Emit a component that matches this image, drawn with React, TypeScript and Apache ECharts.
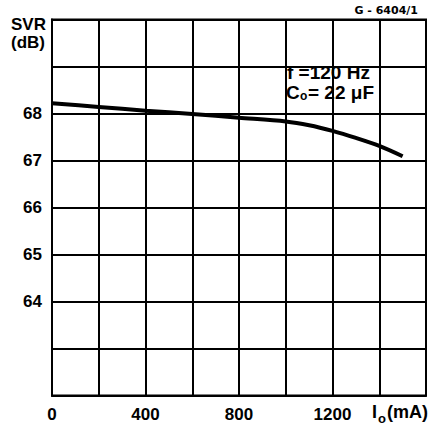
import React, { useEffect, useRef } from "react";
import * as echarts from "echarts";

const currentMA: number[] = [0, 200, 400, 600, 800, 1000, 1100, 1200, 1300, 1400, 1500];
const svrDB: number[] = [68.22, 68.14, 68.06, 67.99, 67.91, 67.83, 67.75, 67.63, 67.48, 67.31, 67.09];
const xTickLabels: number[] = [0, 400, 800, 1200];
const yTickLabels: number[] = [64, 65, 66, 67, 68];

const FONT = "Liberation Sans";

export default function App() {
  const ref = useRef<HTMLDivElement>(null);
  useEffect(() => {
    document.body.style.margin = "0";
    if (!ref.current) return;
    const chart = echarts.init(ref.current, undefined, { renderer: "svg" });
    const data = currentMA.map((x, i) => [x, svrDB[i]]);
    const bold = (size: number) => ({
      fontFamily: FONT,
      fontWeight: "bold" as const,
      fontSize: size,
      fill: "#000",
    });
    chart.setOption({
      animation: false,
      backgroundColor: "#fff",
      grid: {
        left: 52,
        right: 11,
        top: 19.5,
        bottom: 39.5,
        show: true,
        borderColor: "#000",
        borderWidth: 2,
        backgroundColor: "transparent",
      },
      xAxis: {
        type: "value",
        min: 0,
        max: 1600,
        interval: 200,
        axisLine: { show: true, lineStyle: { color: "#000", width: 2 } },
        axisTick: { show: false },
        splitLine: { show: true, lineStyle: { color: "#000", width: 2 } },
        axisLabel: {
          margin: 10,
          color: "#000",
          fontFamily: FONT,
          fontWeight: "bold",
          fontSize: 17,
          formatter: (v: number) => (xTickLabels.includes(v) ? String(v) : ""),
        },
      },
      yAxis: {
        type: "value",
        min: 62,
        max: 70,
        interval: 1,
        axisLine: { show: true, lineStyle: { color: "#000", width: 2 } },
        axisTick: { show: false },
        splitLine: { show: true, lineStyle: { color: "#000", width: 2 } },
        axisLabel: {
          margin: 10,
          color: "#000",
          fontFamily: FONT,
          fontWeight: "bold",
          fontSize: 17,
          formatter: (v: number) => (yTickLabels.includes(v) ? String(v) : ""),
        },
      },
      series: [
        {
          type: "line",
          data,
          smooth: 0.3,
          symbol: "none",
          lineStyle: { color: "#000", width: 4 },
        },
      ],
      graphic: [
        { type: "text", left: 11, top: 16, style: { text: "SVR", ...bold(17) } },
        { type: "text", left: 11, top: 34, style: { text: "(dB)", ...bold(17) } },
        {
          type: "text",
          right: 19,
          top: 5,
          style: {
            text: "G - 6404/1",
            fontFamily: "DejaVu Sans",
            fontWeight: "bold",
            fontSize: 11,
            fill: "#000",
          },
        },
        { type: "text", left: 287, top: 63, style: { text: "f =120 Hz", ...bold(19) } },
        { type: "text", left: 286, top: 83, style: { text: "C", ...bold(19) } },
        { type: "text", left: 300, top: 90, style: { text: "o", ...bold(12) } },
        { type: "text", left: 308, top: 83, style: { text: "= 22 μF", ...bold(19) } },
        { type: "text", left: 372, top: 403, style: { text: "I", ...bold(18) } },
        { type: "text", left: 378, top: 412, style: { text: "o", ...bold(13) } },
        { type: "text", left: 387, top: 403, style: { text: "(mA)", ...bold(18) } },
      ],
    });
    return () => chart.dispose();
  }, []);
  return <div ref={ref} style={{ width: 437, height: 435 }} />;
}
